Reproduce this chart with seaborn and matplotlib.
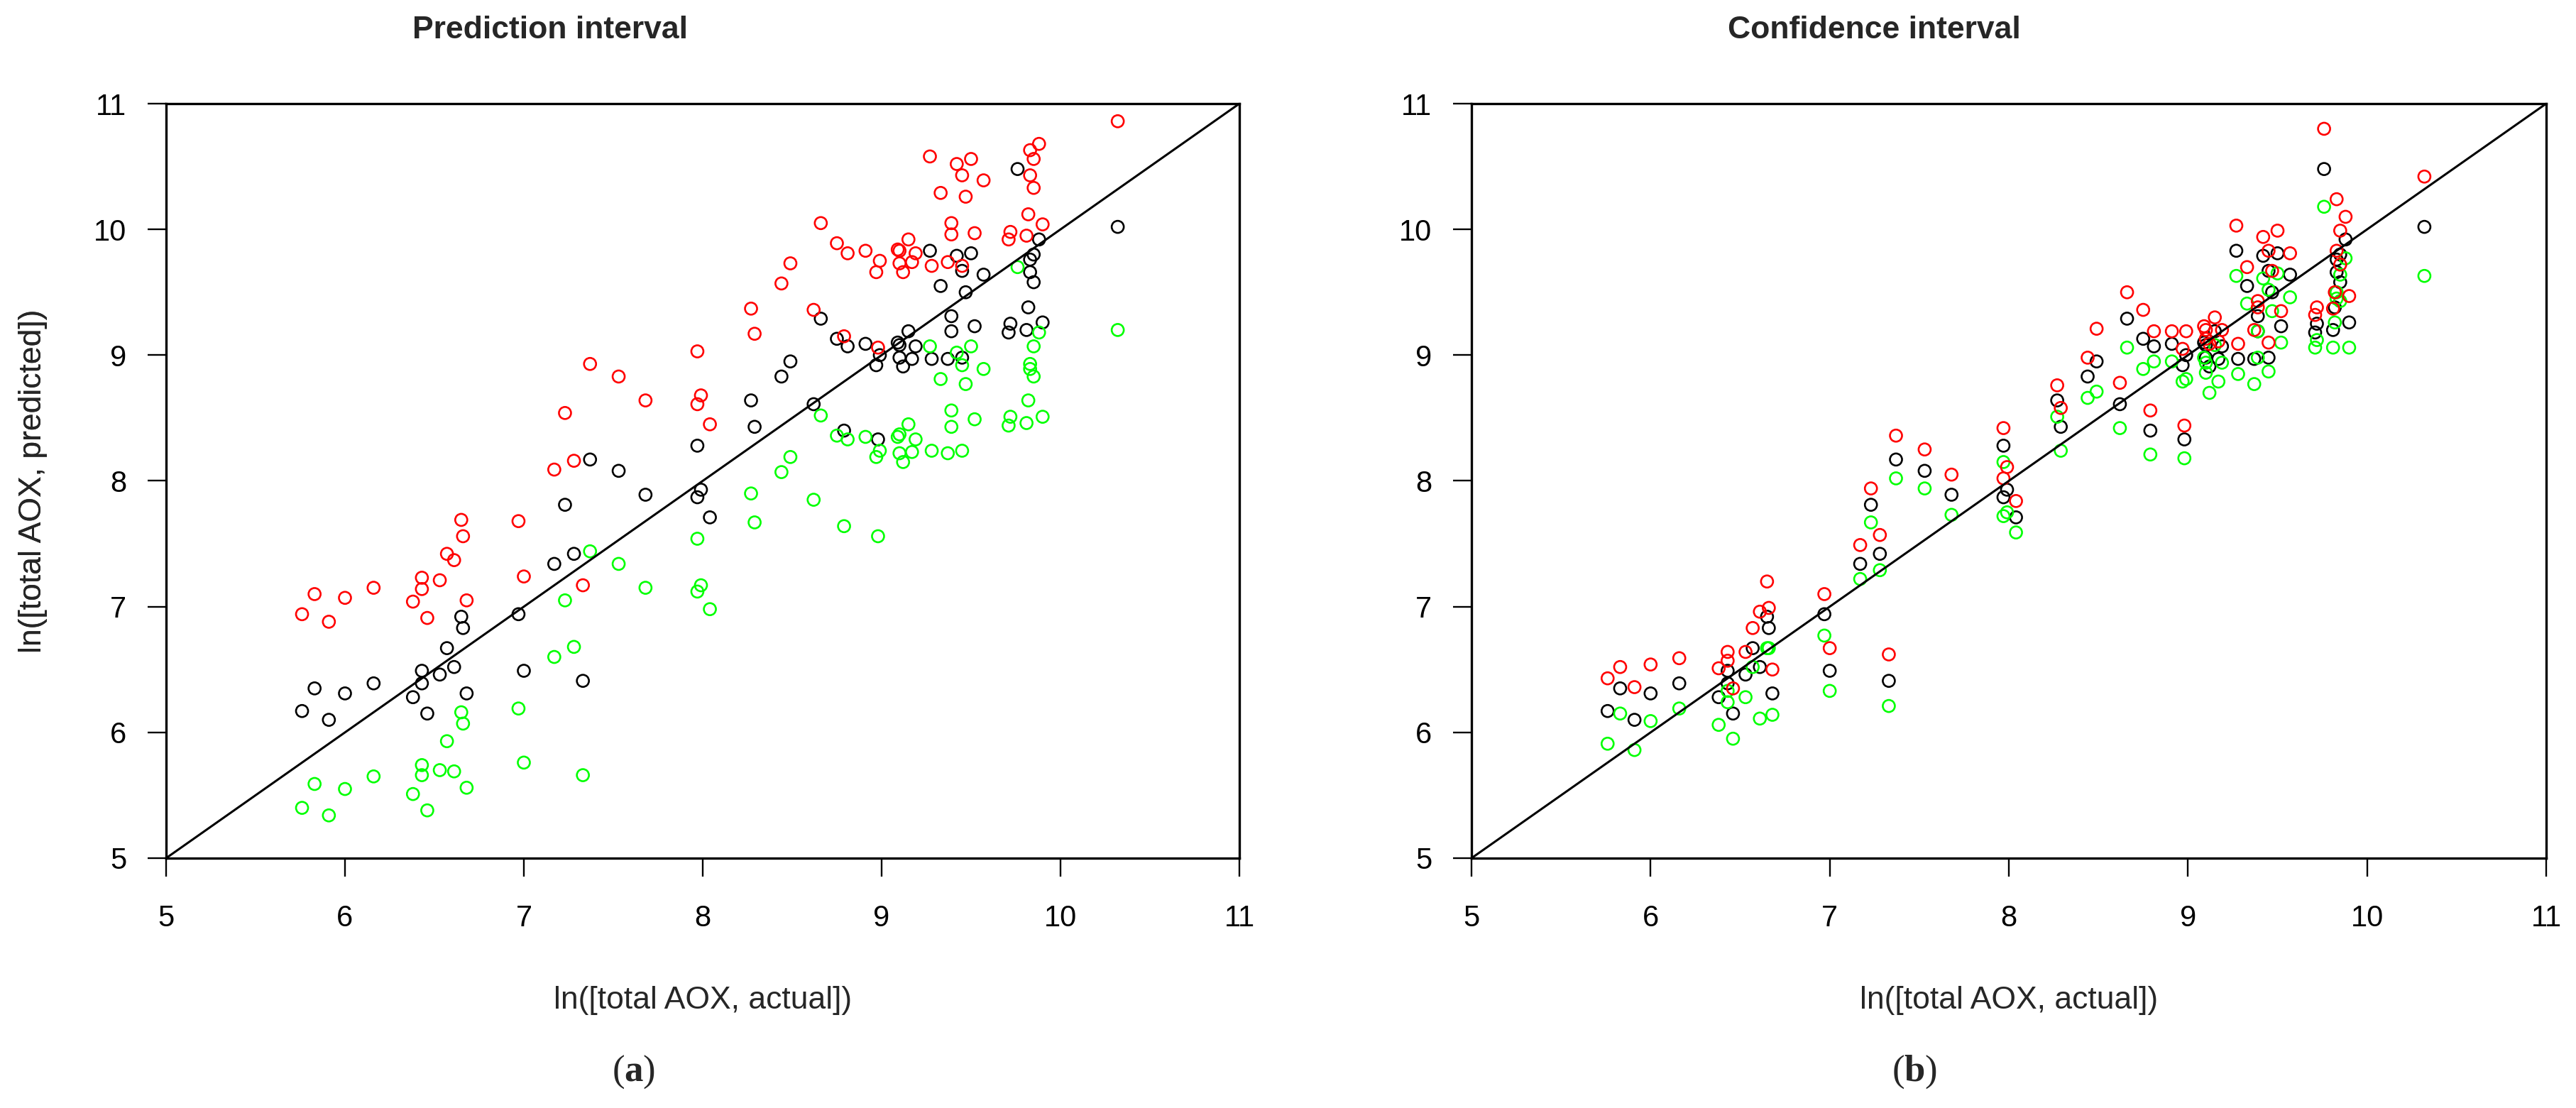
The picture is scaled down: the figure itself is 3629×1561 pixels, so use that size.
import numpy as np
import pandas as pd
import matplotlib
matplotlib.use("Agg")
import matplotlib.pyplot as plt
import seaborn as sns

# ln(total AOX) actual values (shared by both panels)
actual = [5.76, 5.83, 5.91, 6.00, 6.16, 6.38, 6.43, 6.43, 6.46, 6.53, 6.57, 6.61, 6.65, 6.66, 6.68,
          6.97, 7.00, 7.17, 7.23, 7.28, 7.33, 7.37, 7.53, 7.68, 7.97, 7.99, 7.97, 8.04, 8.27, 8.29,
          8.44, 8.49, 8.62, 8.66, 8.75, 8.79, 8.81, 8.91, 8.97, 8.98, 8.99, 9.09, 9.10, 9.10, 9.12,
          9.15, 9.17, 9.19, 9.27, 9.28, 9.33, 9.37, 9.39, 9.39, 9.42, 9.45, 9.45, 9.47, 9.50, 9.52,
          9.57, 9.71, 9.72, 9.76, 9.81, 9.82, 9.88, 9.85, 9.83, 9.83, 9.85, 9.90, 10.32]

# predicted values (black)
predicted = [6.17, 6.35, 6.10, 6.31, 6.39, 6.28, 6.49, 6.39, 6.15, 6.46, 6.67, 6.52, 6.92, 6.83, 6.31,
             6.94, 6.49, 7.34, 7.81, 7.42, 6.41, 8.17, 8.08, 7.89, 8.28, 7.93, 7.87, 7.71, 8.64, 8.43,
             8.83, 8.95, 8.61, 9.29, 9.13, 8.40, 9.07, 9.09, 8.92, 8.33, 9.00, 9.10, 9.08, 8.98, 8.91,
             9.19, 8.97, 9.07, 9.83, 8.97, 9.55, 8.97, 9.31, 9.19, 9.79, 9.67, 8.98, 9.50, 9.81, 9.23,
             9.64, 9.18, 9.25, 10.48, 9.20, 9.38, 9.92, 9.80, 9.76, 9.66, 9.58, 9.26, 10.02]

# prediction interval bounds (panel a)
pi_upper = [6.94, 7.10, 6.88, 7.07, 7.15, 7.04, 7.23, 7.14, 6.91, 7.21, 7.42, 7.37, 7.69, 7.56, 7.05,
            7.68, 7.24, 8.09, 8.54, 8.16, 7.17, 8.93, 8.83, 8.64, 9.03, 8.68, 8.61, 8.45, 9.37, 9.17,
            9.57, 9.73, 9.36, 10.05, 9.89, 9.15, 9.81, 9.83, 9.66, 9.06, 9.75, 9.84, 9.83, 9.73, 9.66,
            9.92, 9.74, 9.81, 10.58, 9.71, 10.29, 9.74, 10.05, 9.96, 10.52, 10.43, 9.71, 10.26, 10.56, 9.97,
            10.39, 9.92, 9.98, 11.22, 9.95, 10.12, 10.68, 10.56, 10.63, 10.43, 10.33, 10.04, 10.86]
pi_lower = [5.40, 5.59, 5.34, 5.55, 5.65, 5.51, 5.74, 5.66, 5.38, 5.70, 5.93, 5.69, 6.16, 6.07, 5.56,
            6.19, 5.76, 6.60, 7.05, 6.68, 5.66, 7.44, 7.34, 7.15, 7.54, 7.17, 7.12, 6.98, 7.90, 7.67,
            8.07, 8.19, 7.85, 8.52, 8.36, 7.64, 8.33, 8.35, 8.19, 7.56, 8.24, 8.35, 8.37, 8.22, 8.15,
            8.45, 8.23, 8.33, 9.07, 8.24, 8.81, 8.22, 8.56, 8.43, 9.02, 8.92, 8.24, 8.77, 9.07, 8.49,
            8.89, 8.44, 8.51, 9.70, 8.46, 8.64, 9.18, 9.07, 8.93, 8.89, 8.83, 8.51, 9.20]

# confidence interval bounds (panel b)
ci_upper = [6.43, 6.52, 6.36, 6.54, 6.59, 6.51, 6.64, 6.57, 6.35, 6.64, 6.83, 6.96, 7.20, 6.99, 6.50,
            7.10, 6.67, 7.49, 7.94, 7.57, 6.62, 8.36, 8.25, 8.05, 8.42, 8.11, 8.02, 7.84, 8.76, 8.58,
            8.98, 9.21, 8.78, 9.50, 9.36, 8.56, 9.19, 9.19, 9.05, 8.44, 9.19, 9.23, 9.20, 9.13, 9.09,
            9.30, 9.11, 9.20, 10.03, 9.09, 9.70, 9.20, 9.43, 9.38, 9.94, 9.83, 9.10, 9.67, 9.99, 9.35,
            9.81, 9.32, 9.38, 10.80, 9.37, 9.50, 10.10, 9.99, 10.24, 9.83, 9.72, 9.47, 10.42]
ci_lower = [5.91, 6.15, 5.86, 6.09, 6.19, 6.06, 6.33, 6.24, 5.95, 6.28, 6.52, 6.11, 6.67, 6.67, 6.14,
            6.77, 6.33, 7.22, 7.67, 7.29, 6.21, 8.02, 7.94, 7.73, 8.15, 7.75, 7.72, 7.59, 8.51, 8.24,
            8.66, 8.71, 8.42, 9.06, 8.89, 8.21, 8.95, 8.95, 8.79, 8.18, 8.81, 8.98, 8.94, 8.86, 8.70,
            9.08, 8.79, 8.94, 9.63, 8.85, 9.41, 8.77, 9.19, 8.98, 9.61, 9.52, 8.87, 9.35, 9.65, 9.10,
            9.46, 9.06, 9.12, 10.18, 9.06, 9.26, 9.77, 9.64, 9.45, 9.50, 9.43, 9.06, 9.63]

axis_limits = [5, 11]
tick_values = [5, 6, 7, 8, 9, 10, 11]
panel_titles = ["Prediction interval", "Confidence interval"]
panel_letters = ["a", "b"]
x_label = "ln([total AOX, actual])"
y_label = "ln([total AOX, predicted])"
series_colors = {"predicted": "#000000", "lower": "#00FF00", "upper": "#FF0000"}


def long_frame(upper, lower):
    frames = []
    for name, vals in [("predicted", predicted), ("lower", lower), ("upper", upper)]:
        frames.append(pd.DataFrame({"actual": actual, "value": vals, "series": name}))
    return pd.concat(frames, ignore_index=True)


panels = [long_frame(pi_upper, pi_lower), long_frame(ci_upper, ci_lower)]

sns.set_style("ticks")
plt.rcParams["font.family"] = ["Liberation Sans", "DejaVu Sans"]
plt.rcParams["mathtext.fontset"] = "custom"
plt.rcParams["mathtext.rm"] = "Liberation Serif"
plt.rcParams["mathtext.bf"] = "Liberation Serif:bold"

W, H = 3630, 1561
fig = plt.figure(figsize=(W / 100, H / 100), dpi=100)

# axes boxes in pixels: left, right, top, bottom
boxes = [(234, 1746, 146, 1209), (2073, 3587, 146, 1209)]
title_x = [775, 2640]
letter_x = [893, 2697]

for i, df in enumerate(panels):
    l, r, t, b = boxes[i]
    ax = fig.add_axes([l / W, (H - b) / H, (r - l) / W, (b - t) / H])
    for name, color in series_colors.items():
        sub = df[df["series"] == name]
        sns.scatterplot(data=sub, x="actual", y="value", ax=ax, marker="o", s=150,
                        color=color, facecolor="none", edgecolor=color,
                        linewidth=1.9, legend=False, zorder=2)
    ax.axline((axis_limits[0], axis_limits[0]), slope=1, color="black", lw=2.2, zorder=3)
    ax.set_xlim(axis_limits)
    ax.set_ylim(axis_limits)
    ax.set_xticks(tick_values)
    ax.set_yticks(tick_values)
    for sp in ax.spines.values():
        sp.set_linewidth(2.4)
        sp.set_color("black")
    ax.tick_params(axis="both", direction="out", length=19, width=1.7, labelsize=30, colors="black")
    ax.tick_params(axis="y", pad=21)
    ax.tick_params(axis="x", pad=28)
    ax.set_xlabel(x_label, fontsize=32, va="center")
    ax.xaxis.set_label_coords(0.5, -(1409 - b) / (b - t))
    ax.set_ylabel(y_label, fontsize=32, va="center", ha="center")
    ax.yaxis.set_label_coords((47 - l) / (r - l), 0.5)

    fig.text(title_x[i] / W, 1 - 42 / H, panel_titles[i], fontsize=32, fontweight="bold",
             ha="center", va="center")
    fig.text(letter_x[i] / W, 1 - 1510 / H, "(" + r"$\mathbf{" + panel_letters[i] + "}$" + ")",
             fontsize=38, family="Liberation Serif", ha="center", va="center")

fig.savefig("out.png", dpi=100, facecolor="white")
